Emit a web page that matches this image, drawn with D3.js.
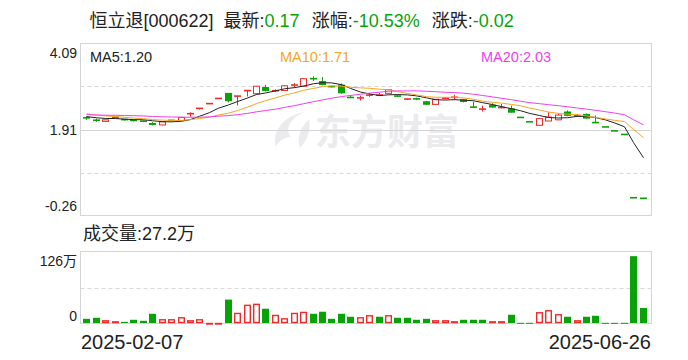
<!DOCTYPE html>
<html><head><meta charset="utf-8">
<script src="https://cdn.jsdelivr.net/npm/d3@7/dist/d3.min.js"></script>
<style>body{margin:0;background:#fff}svg{display:block}</style>
</head><body>
<svg id="c" width="688" height="360"></svg>
<script>
const stockName = "恒立退";
const stockCode = "000622";
const opens  = [2.21,2.17,2.12,2.21,2.17,2.15,2.13,2.08,2.03,2.15,2.14,2.30,2.45,2.57,2.70,2.84,2.76,2.90,2.82,2.99,2.89,2.90,3.03,3.01,3.21,3.14,3.01,3.05,2.73,2.70,2.77,2.78,2.83,2.77,2.68,2.70,2.63,2.55,2.70,2.72,2.68,2.49,2.42,2.54,2.46,2.45,2.22,2.11,2.02,2.13,2.16,2.37,2.25,2.31,2.10,1.98,1.88,1.79,0.19,0.18];
const highs  = [2.25,2.19,2.17,2.24,2.18,2.16,2.14,2.10,2.11,2.16,2.23,2.35,2.45,2.57,2.70,2.84,2.76,2.90,3.02,3.04,2.93,3.04,3.09,3.20,3.26,3.24,3.02,3.08,2.78,2.77,2.83,2.84,2.94,2.79,2.70,2.72,2.64,2.68,2.73,2.79,2.69,2.62,2.52,2.58,2.56,2.52,2.22,2.11,2.21,2.35,2.32,2.40,2.30,2.32,2.27,1.98,1.88,1.79,0.20,0.18];
const lows   = [2.16,2.11,2.11,2.20,2.14,2.12,2.10,2.02,2.02,2.12,2.14,2.24,2.42,2.57,2.70,2.60,2.52,2.75,2.80,2.88,2.86,2.89,2.97,3.00,3.14,3.03,2.98,2.82,2.71,2.65,2.74,2.76,2.82,2.74,2.67,2.66,2.54,2.54,2.68,2.66,2.60,2.47,2.37,2.47,2.45,2.34,2.22,2.11,2.01,2.13,2.15,2.25,2.24,2.19,2.08,1.98,1.88,1.79,0.18,0.17];
const closes = [2.21,2.13,2.16,2.23,2.16,2.14,2.12,2.03,2.11,2.14,2.22,2.33,2.45,2.57,2.70,2.63,2.76,2.90,3.01,2.89,2.90,3.02,3.05,3.20,3.19,3.04,2.99,2.83,2.72,2.73,2.80,2.79,2.92,2.75,2.69,2.68,2.54,2.68,2.71,2.74,2.61,2.47,2.44,2.47,2.48,2.34,2.22,2.11,2.19,2.23,2.28,2.26,2.28,2.19,2.08,1.98,1.88,1.79,0.19,0.17];
const volumes = [8.2,10,5.9,4.1,2.9,6.5,4.7,17,7.7,7.7,11.2,5.9,7.7,1.2,1.2,41.8,18.8,33,34.7,25.9,15.3,9.4,18.8,20.6,17,20.6,8.2,17,11.8,11.2,14.7,11.8,14.7,10,10,6.5,8.2,5.9,5.9,4.1,6.5,6.5,6.5,4.1,4.1,15.3,1.2,1.2,20,23.5,16.5,11.8,5.9,11.8,13.5,1.2,1.2,1.2,117.8,27.2];
const priorCloses = [2.30,2.28,2.25,2.27,2.26,2.24,2.29,2.27,2.26,2.28,2.40,2.42,2.38,2.36,2.34,2.28,2.25,2.24,2.23];
const priceTicks = [4.09, 1.91, -0.26];
const volMax = 126;
const volTickLabels = ["126万", "0"];
const dateLabels = ["2025-02-07", "2025-06-26"];
const maPeriods = [5, 10, 20];

const RED = "#f22a2a", GREEN = "#07a307";
const maColors = ["#222222", "#f5a623", "#ee3fee"];
const FONT = "'Liberation Sans','Noto Sans CJK SC',sans-serif";

const svg = d3.select("#c");
const n = closes.length;
const L = 80.5, R = 651.5, T = 43.5, B = 215.5;
const VT = 251.5, VB = 323.5;

const x = d3.scaleBand().domain(d3.range(n)).range([82.1, 647.9]).paddingInner(0.25).paddingOuter(0.125);
const y = d3.scaleLinear().domain([d3.min(priceTicks), d3.max(priceTicks)]).range([B, T]);
const yv = d3.scaleLinear().domain([0, volMax]).range([VB, VT]);

// watermark
const wm = svg.append("g").attr("fill", "#ebebed");
wm.append("path").attr("d", "M304 112 C286 115 271 130 276 147 C279 140 285 137 291 137 C284 129 291 118 304 112 Z");
wm.append("path").attr("d", "M309 119 C301 127 296 138 300 148 C307 141 311 130 309 119 Z");
wm.append("text").attr("x", 315).attr("y", 145).attr("font-family", "'Noto Sans CJK SC',sans-serif").attr("font-size", 36).attr("font-weight", "bold").text("东方财富");

// frames and grid
function frame(top, bottom) {
  svg.append("rect").attr("x", L).attr("y", top).attr("width", R - L).attr("height", bottom - top)
    .attr("fill", "none").attr("stroke", "#d4d4d8");
}
frame(T, B); frame(VT, VB);
const q1 = y.invert(T + (B - T) / 4), q3 = y.invert(T + 3 * (B - T) / 4);
[q1, q3].forEach(v => {
  svg.append("line").attr("x1", L).attr("x2", R).attr("y1", Math.round(y(v)) + 0.5).attr("y2", Math.round(y(v)) + 0.5)
    .attr("stroke", "#d9d9d9").attr("stroke-dasharray", "4,3");
});
svg.append("line").attr("x1", L).attr("x2", R).attr("y1", Math.round(y(priceTicks[1])) + 0.5).attr("y2", Math.round(y(priceTicks[1])) + 0.5)
  .attr("stroke", "#d4d4d8");
svg.append("line").attr("x1", L).attr("x2", R).attr("y1", Math.round(yv(volMax / 2)) + 0.5).attr("y2", Math.round(yv(volMax / 2)) + 0.5)
  .attr("stroke", "#d9d9d9").attr("stroke-dasharray", "4,3");

// y labels
const lab = svg.append("g").attr("font-family", FONT).attr("font-size", 14).attr("fill", "#222").attr("text-anchor", "end");
lab.append("text").attr("x", 77).attr("y", y(priceTicks[0]) + 10).attr("dy", "0.35em").text(priceTicks[0].toFixed(2));
lab.append("text").attr("x", 77).attr("y", y(priceTicks[1])).attr("dy", "0.35em").text(priceTicks[1].toFixed(2));
lab.append("text").attr("x", 77).attr("y", y(priceTicks[2]) - 9.5).attr("dy", "0.35em").text(priceTicks[2].toFixed(2));
lab.append("text").attr("x", 77).attr("y", yv(volMax) + 10).attr("dy", "0.35em").text(volTickLabels[0]);
lab.append("text").attr("x", 77).attr("y", yv(0) - 7).attr("dy", "0.35em").text(volTickLabels[1]);

// colours
function prevClose(i) { return i === 0 ? priorCloses[priorCloses.length - 1] : closes[i - 1]; }
function candleUp(i) { return closes[i] === opens[i] ? closes[i] >= prevClose(i) : closes[i] > opens[i]; }
function volUp(i) { return closes[i] >= prevClose(i); }

// candles
const cg = svg.append("g");
d3.range(n).forEach(i => {
  const x0 = Math.round(x(i)), w = 7, cx = x0 + 3.5;
  const o = opens[i], c = closes[i];
  const yh = y(highs[i]), yl = y(lows[i]);
  const yt = y(Math.max(o, c)), yb = y(Math.min(o, c));
  const col = candleUp(i) ? RED : GREEN;
  const bodyH = yb - yt;
  if (yl - yh > 0.5) {
    cg.append("line").attr("x1", cx).attr("x2", cx).attr("y1", yh).attr("y2", yl).attr("stroke", col);
  }
  if (bodyH < 1.5) {
    cg.append("line").attr("x1", x0).attr("x2", x0 + w).attr("y1", (yt + yb) / 2).attr("y2", (yt + yb) / 2)
      .attr("stroke", col).attr("stroke-width", 1.6);
  } else if (c > o) {
    cg.append("rect").attr("x", x0 + 0.5).attr("y", yt).attr("width", w - 1).attr("height", bodyH)
      .attr("fill", "#fff").attr("stroke", col);
  } else {
    cg.append("rect").attr("x", x0).attr("y", yt).attr("width", w).attr("height", bodyH).attr("fill", col);
  }
});

// moving averages
const all = priorCloses.concat(closes);
const off = priorCloses.length;
const maSeries = maPeriods.map(p => d3.range(n).map(i => d3.mean(all.slice(i + off - p + 1, i + off + 1))));
maSeries.forEach((s, k) => {
  svg.append("path").datum(s).attr("fill", "none").attr("stroke", maColors[k]).attr("stroke-width", 1)
    .attr("d", d3.line().x((d, i) => Math.round(x(i)) + 3.5).y(d => y(d)));
});

// MA legends
const legX = [90, 280, 481];
maPeriods.forEach((p, k) => {
  svg.append("text").attr("x", legX[k]).attr("y", 57).attr("dy", "0.35em").attr("font-family", FONT)
    .attr("font-size", 14.5).attr("fill", maColors[k] === "#222222" ? "#222" : maColors[k])
    .text("MA" + p + ":" + maSeries[k][n - 1].toFixed(2));
});

// volume bars
const vg = svg.append("g");
d3.range(n).forEach(i => {
  const x0 = Math.round(x(i));
  const yt = yv(volumes[i]), h = VB - 0.5 - yt;
  if (volUp(i)) {
    vg.append("rect").attr("x", x0 + 0.7).attr("y", yt + 0.7).attr("width", 5.6).attr("height", Math.max(0.5, h - 1.2))
      .attr("fill", "#fff").attr("stroke", RED).attr("stroke-width", 1.4);
  } else {
    vg.append("rect").attr("x", x0).attr("y", yt).attr("width", 7).attr("height", Math.max(1, h)).attr("fill", GREEN);
  }
});

// title
const last = closes[n - 1], prev = closes[n - 2];
const chg = last - prev, pct = chg / prev * 100;
const title = svg.append("text").attr("x", 89.5).attr("y", 21).attr("dy", "0.35em")
  .attr("font-family", FONT).attr("font-size", 18).attr("fill", "#222");
title.append("tspan").text(stockName + "[" + stockCode + "]");
title.append("tspan").attr("dx", 10).text("最新:");
title.append("tspan").attr("fill", GREEN).text(last.toFixed(2));
title.append("tspan").attr("dx", 12).text("涨幅:");
title.append("tspan").attr("fill", GREEN).text(pct.toFixed(2) + "%");
title.append("tspan").attr("dx", 12).text("涨跌:");
title.append("tspan").attr("fill", GREEN).text(chg.toFixed(2));

// volume label
svg.append("text").attr("x", 83).attr("y", 234).attr("dy", "0.35em").attr("font-family", FONT)
  .attr("font-size", 18).attr("fill", "#222").text("成交量:" + volumes[n - 1].toFixed(1) + "万");

// dates
const dg = svg.append("g").attr("font-family", FONT).attr("font-size", 20).attr("fill", "#222");
dg.append("text").attr("x", 81).attr("y", 342).attr("dy", "0.35em").text(dateLabels[0]);
dg.append("text").attr("x", 651).attr("y", 342).attr("dy", "0.35em").attr("text-anchor", "end").text(dateLabels[1]);
</script>
</body></html>
